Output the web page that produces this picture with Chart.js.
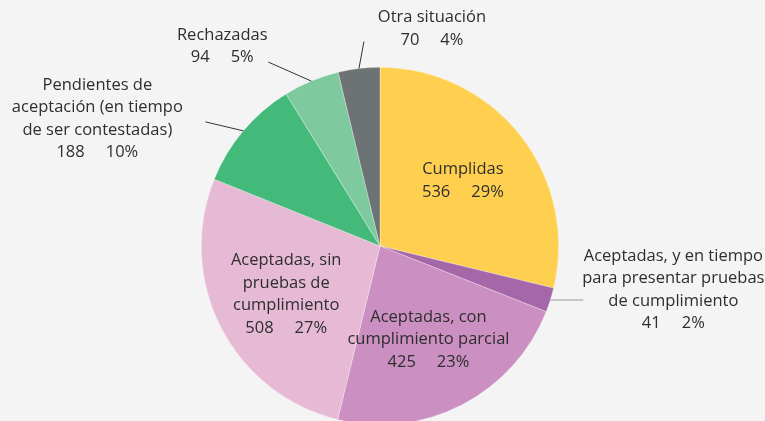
<!DOCTYPE html>
<html>
<head>
<meta charset="utf-8">
<script src="https://cdn.jsdelivr.net/npm/chart.js@4/dist/chart.umd.min.js"></script>
<style>
  html, body { margin: 0; padding: 0; background: #f4f4f4; overflow: hidden; }
  #wrap { width: 765px; height: 421px; overflow: hidden; }
</style>
</head>
<body>
<div id="wrap"><canvas id="chart-recomendaciones" width="765" height="440"></canvas></div>
<script>
var categorias = [
  ['Cumplidas'],
  ['Aceptadas, y en tiempo', 'para presentar pruebas', 'de cumplimiento'],
  ['Aceptadas, con', 'cumplimiento parcial'],
  ['Aceptadas, sin', 'pruebas de', 'cumplimiento'],
  ['Pendientes de', 'aceptación (en tiempo', 'de ser contestadas)'],
  ['Rechazadas'],
  ['Otra situación']
];
var valores = [536, 41, 425, 508, 188, 94, 70];
var colores = ['#ffd050', '#a667a9', '#cb8fc1', '#e6b9d5', '#43b97a', '#7fc99f', '#6d7274'];

// where each label goes: inside the slice, or outside with a leader line
// line: offset of the line end from the slice edge, text: offset of the first line centre from line end
var etiquetas = [
  {inside: true},
  {line: [33, 0], text: [90, -44], lineColor: '#9a9a9a'},
  {inside: true},
  {inside: true},
  {line: [-38, -9], text: [-108, -37], lineColor: '#333333'},
  {line: [-43, -19], text: [-46, -27], lineColor: '#333333'},
  {line: [5, -27], text: [68, -24], lineColor: '#333333'}
];

var total = valores.reduce(function (a, b) { return a + b; }, 0);
var fuente = '16.5px "Open Sans"';
var alto_linea = 22.5;

function drawBlock(ctx, lines, value, cx, cy) {
  ctx.font = fuente;
  ctx.fillStyle = '#2e2e2e';
  ctx.textAlign = 'center';
  ctx.textBaseline = 'middle';
  var y = cy;
  for (var i = 0; i < lines.length; i++) {
    ctx.fillText(lines[i], cx, y);
    y += alto_linea;
  }
  // value and percentage, with a gap between them
  var v = String(value);
  var p = Math.round(value / total * 100) + '%';
  var gap = 21;
  var wv = ctx.measureText(v).width;
  var wp = ctx.measureText(p).width;
  var x0 = cx - (wv + gap + wp) / 2;
  ctx.textAlign = 'left';
  ctx.fillText(v, x0, y);
  ctx.fillText(p, x0 + wv + gap, y);
}

var labelsPlugin = {
  id: 'labelsPlugin',
  afterDatasetsDraw: function (chart) {
    var ctx = chart.ctx;
    var meta = chart.getDatasetMeta(0);
    ctx.save();
    meta.data.forEach(function (arc, i) {
      var cfg = etiquetas[i];
      var mid = (arc.startAngle + arc.endAngle) / 2;
      var lines = categorias[i];
      if (cfg.inside) {
        var r = arc.outerRadius * 0.59;
        var cx = arc.x + Math.cos(mid) * r;
        var cy = arc.y + Math.sin(mid) * r;
        var h = lines.length * alto_linea;
        drawBlock(ctx, lines, valores[i], cx, cy - h / 2);
      } else {
        var sx = arc.x + Math.cos(mid) * arc.outerRadius;
        var sy = arc.y + Math.sin(mid) * arc.outerRadius;
        var ex = sx + cfg.line[0];
        var ey = sy + cfg.line[1];
        ctx.beginPath();
        ctx.strokeStyle = cfg.lineColor;
        ctx.lineWidth = 1;
        ctx.moveTo(sx, sy);
        ctx.lineTo(ex, ey);
        ctx.stroke();
        drawBlock(ctx, lines, valores[i], ex + cfg.text[0], ey + cfg.text[1]);
      }
    });
    ctx.restore();
  }
};

var chart = new Chart(document.getElementById('chart-recomendaciones'), {
  type: 'pie',
  data: {
    labels: categorias,
    datasets: [{
      data: valores,
      backgroundColor: colores,
      borderColor: 'rgba(255,255,255,0.5)',
      borderWidth: 0.6
    }]
  },
  options: {
    responsive: false,
    animation: false,
    layout: {padding: {left: 201, right: 206, top: 67, bottom: 15}},
    plugins: {
      legend: {display: false},
      tooltip: {enabled: false}
    }
  },
  plugins: [labelsPlugin]
});
</script>
</body>
</html>
